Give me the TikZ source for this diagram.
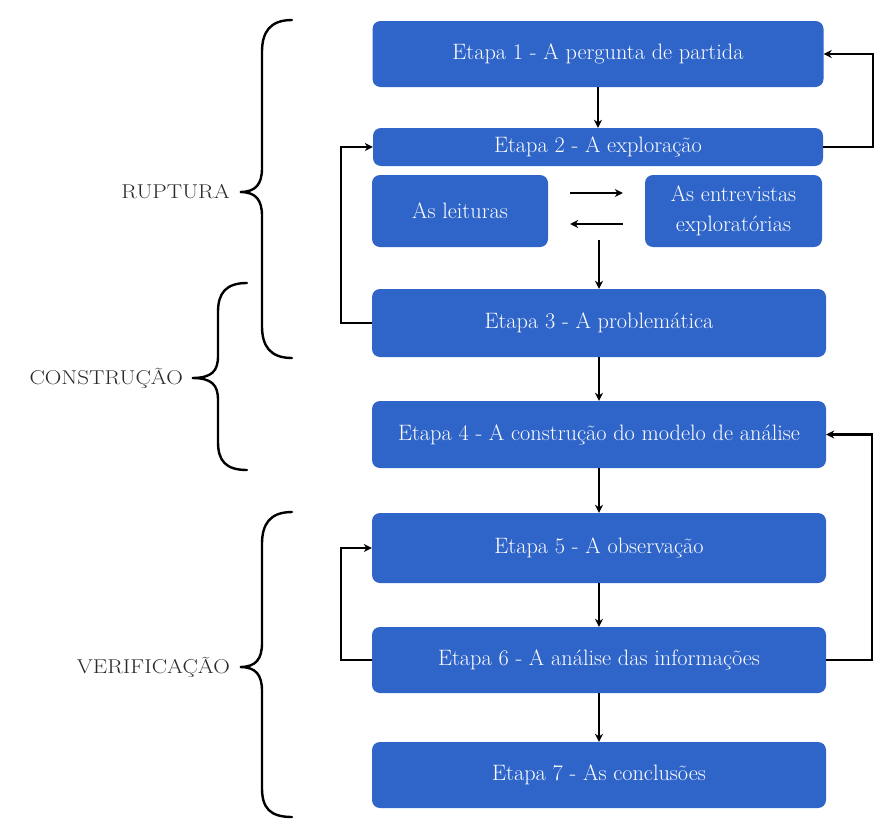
\documentclass[tikz,border=0pt]{standalone}
\usepackage{graphicx}
\usetikzlibrary{arrows.meta,calc}
\definecolor{boxblue}{HTML}{2F64C8}
\definecolor{labgray}{HTML}{2A2A2A}
\newcommand{\wideword}[1]{\scalebox{1.15}[1]{#1}}
\tikzset{
  stagebox/.style={fill=boxblue, draw=none, rounded corners=8pt, text=white,
    font=\fontsize{22.3}{30}\selectfont, align=center, inner sep=0pt},
  arr/.style={line width=2.4pt, -{Stealth[length=8pt,width=8pt]}},
  bracepath/.style={line width=2.4pt, line cap=round},
  phase/.style={text=labgray, font=\fontsize{20}{24}\selectfont, inner sep=0pt}
}
\begin{document}
\begin{tikzpicture}[x=1pt,y=-1pt]
\useasboundingbox[fill=white] (0,0) rectangle (875,819);
% boxes
\node[stagebox, minimum width=451pt, minimum height=66pt] (b1) at (598,54) {Etapa 1 - A pergunta de partida};
\node[stagebox, minimum width=450pt, minimum height=38pt] (b2) at (598,147) {Etapa 2 - A exploração};
\node[stagebox, minimum width=176pt, minimum height=72pt] (lei) at (460,211) {As leituras};
\node[stagebox, minimum width=177pt, minimum height=72pt] (ent) at (733.5,211) {As entrevistas\\exploratórias};
\node[stagebox, minimum width=454pt, minimum height=68pt] (b3) at (599,323) {Etapa 3 - A problemática};
\node[stagebox, minimum width=454pt, minimum height=67pt] (b4) at (599,434.5) {Etapa 4 - A construção do modelo de análise};
\node[stagebox, minimum width=454pt, minimum height=70pt] (b5) at (599,548) {Etapa 5 - A observação};
\node[stagebox, minimum width=454pt, minimum height=66pt] (b6) at (599,660) {Etapa 6 - A análise das informações};
\node[stagebox, minimum width=454pt, minimum height=66pt] (b7) at (599,775) {Etapa 7 - As conclusões};
% vertical arrows
\draw[arr] (b1.south) -- (b2.north);
\coordinate (c23) at (599,240);
\draw[arr] (c23) -- (b3.north);
\draw[arr] (b3.south) -- (b4.north);
\draw[arr] (b4.south) -- (b5.north);
\draw[arr] (b5.south) -- (b6.north);
\draw[arr] (b6.south) -- (b7.north);
% exchange arrows
\draw[arr] ($(lei.east)+(22,-18)$) -- ($(ent.west)+(-22,-18)$);
\draw[arr] ($(ent.west)+(-22,13)$) -- ($(lei.east)+(22,13)$);
% feedback loops
\draw[arr] (b3.west) -- ++(-31,0) |- (b2.west);
\draw[arr] (b2.east) -- ++(50,0) |- (b1.east);
\draw[arr] (b6.east) -- ++(46,0) |- (b4.east);
\draw[arr] (b6.west) -- ++(-31,0) |- (b5.west);
% braces
\draw[bracepath] (292,20) .. controls (270,20) and (262,32) .. (262,52) -- (262,168)
  .. controls (262,184) and (256,192) .. (240,192)
  .. controls (256,192) and (262,200) .. (262,216) -- (262,326)
  .. controls (262,346) and (270,358) .. (292,358);
\draw[bracepath] (247,283) .. controls (226,283) and (218,293) .. (218,312) -- (218,356)
  .. controls (218,371) and (212,378) .. (192,378)
  .. controls (212,378) and (218,385) .. (218,400) -- (218,442)
  .. controls (218,461) and (226,470) .. (247,470);
\draw[bracepath] (292,512) .. controls (270,512) and (262,524) .. (262,544) -- (262,643)
  .. controls (262,659) and (256,667) .. (240,667)
  .. controls (256,667) and (262,675) .. (262,691) -- (262,788)
  .. controls (262,808) and (270,817) .. (292,817);
% labels
\node[phase, anchor=east] (rup) at (230,192) {\wideword{RUPTURA}};
\node[phase, anchor=east] (con) at (183,378) {\wideword{CONSTRUÇÃO}};
\node[phase, anchor=east] (ver) at (230,667) {\wideword{VERIFICAÇÃO}};
\end{tikzpicture}
\end{document}
